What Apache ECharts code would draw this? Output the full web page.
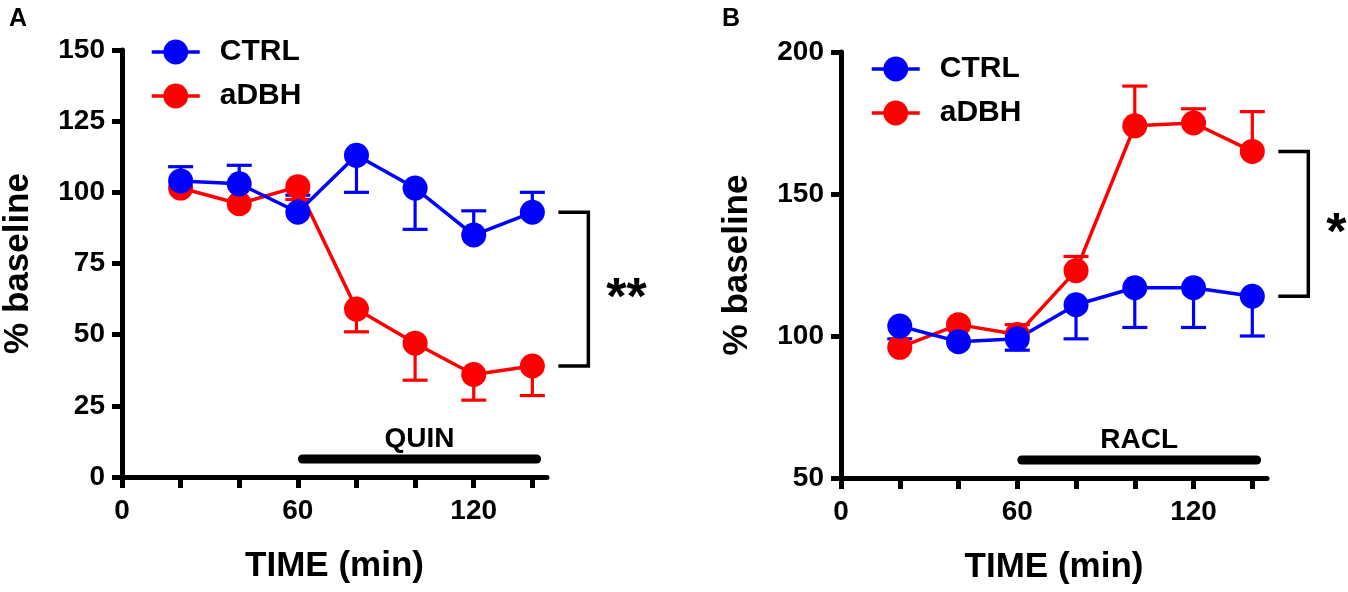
<!DOCTYPE html>
<html>
<head>
<meta charset="utf-8">
<script src="https://cdn.jsdelivr.net/npm/echarts@6/dist/echarts.min.js"></script>
<style>
html,body{margin:0;padding:0;background:#fff;}
#c{width:1348px;height:592px;}
</style>
</head>
<body>
<div id="c"></div>
<script>
// ---- data ----
const time = [20, 40, 60, 80, 100, 120, 140];
const xTickLabels = [0, 60, 120];

// Panel A (QUIN)
const quinCtrl = [104, 103, 93, 113, 101.5, 85, 93];
const quinCtrlErr = [109, 109.5, 99, 100, 87, 93.5, 100];
const quinAdbh = [101.5, 96, 102, 59, 47, 36, 39];
const quinAdbhErr = [null, null, 97.5, 51, 34, 27, 28.6];
const quinWindow = [60, 143];
const quinTicks = [0, 25, 50, 75, 100, 125, 150];

// Panel B (RACL)
const raclCtrl = [103.5, 98, 99, 111, 117, 117, 114];
const raclCtrlErr = [99, null, 95, 99, 103, 103, 100];
const raclAdbh = [96, 104, 100.5, 123, 174, 175, 165];
const raclAdbhErr = [null, null, 104, 128, 188, 180, 179];
const raclWindow = [60, 143];
const raclTicks = [50, 100, 150, 200];

const seriesNames = ['CTRL', 'aDBH'];
const sigA = '**';
const sigB = '*';

// ---- styling ----
const BLUE = '#0000ff', RED = '#ff0000', BLACK = '#000000';
const FONT = '"Liberation Sans", Arial, Helvetica, sans-serif';

function pairs(xs, ys) { return xs.map((x, i) => [x, ys[i]]); }
function errData(xs, ys, es) {
  const out = [];
  xs.forEach((x, i) => { if (es[i] != null) out.push([x, ys[i], es[i]]); });
  return out;
}
function errSeries(idx, data, color) {
  return {
    type: 'custom', xAxisIndex: idx, yAxisIndex: idx, data: data, silent: true,
    encode: { x: 0, y: [1, 2] },
    renderItem: function (params, api) {
      const p = api.coord([api.value(0), api.value(1)]);
      const q = api.coord([api.value(0), api.value(2)]);
      const st = { stroke: color, lineWidth: 3.2 };
      return { type: 'group', children: [
        { type: 'line', shape: { x1: p[0], y1: p[1], x2: q[0], y2: q[1] }, style: st },
        { type: 'line', shape: { x1: q[0] - 12.5, y1: q[1], x2: q[0] + 12.5, y2: q[1] }, style: st }
      ]};
    }
  };
}
function lineSeries(idx, name, data, color) {
  return {
    type: 'line', name: name, xAxisIndex: idx, yAxisIndex: idx, data: data,
    symbol: 'circle', symbolSize: 25, color: color,
    lineStyle: { color: color, width: 3.5 }, itemStyle: { color: color },
    silent: true, animation: false
  };
}
function windowSeries(idx, win, yMin, label) {
  return {
    type: 'custom', xAxisIndex: idx, yAxisIndex: idx, silent: true, clip: false,
    data: [[win[0], win[1], yMin]],
    encode: { x: [0, 1] },
    renderItem: function (params, api) {
      const a = api.coord([api.value(0), api.value(2)]);
      const b = api.coord([api.value(1), api.value(2)]);
      const yc = a[1] - 18;
      return { type: 'group', children: [
        { type: 'rect', shape: { x: a[0], y: yc - 4.5, width: b[0] - a[0], height: 9, r: 4.5 }, style: { fill: BLACK } },
        { type: 'text', style: { text: label, x: (a[0] + b[0]) / 2, y: yc - 20, align: 'center', verticalAlign: 'middle',
          font: 'bold 28px ' + FONT, fill: BLACK } }
      ]};
    }
  };
}
function bracketSeries(idx, x, top, bot, sig) {
  return {
    type: 'custom', xAxisIndex: idx, yAxisIndex: idx, silent: true, clip: false,
    data: [[x, top, bot]],
    encode: { x: 0, y: [1, 2] },
    renderItem: function (params, api) {
      const t = api.coord([api.value(0), api.value(1)]);
      const b = api.coord([api.value(0), api.value(2)]);
      const x1 = t[0] + 26, x2 = t[0] + 56;
      return { type: 'group', children: [
        { type: 'polyline', shape: { points: [[x1, t[1]], [x2, t[1]], [x2, b[1]], [x1, b[1]]] },
          style: { stroke: BLACK, lineWidth: 3.5, fill: null } },
        { type: 'text', style: { text: sig, x: t[0] + 74, y: (t[1] + b[1]) / 2 + 11, align: 'left', verticalAlign: 'middle',
          font: 'bold 52px ' + FONT, fill: BLACK } }
      ]};
    }
  };
}
function xAxis(idx) {
  return {
    type: 'value', gridIndex: idx, min: 0, max: 145,
    name: 'TIME (min)', nameLocation: 'middle', nameGap: 72,
    nameTextStyle: { fontSize: 35, fontWeight: 'bold', color: BLACK, fontFamily: FONT },
    axisLine: { show: true, onZero: false, lineStyle: { color: BLACK, width: 5 } },
    axisTick: { show: true, length: 11, lineStyle: { color: BLACK, width: 5 }, customValues: [0].concat(time) },
    axisLabel: { show: true, margin: 20, fontSize: 28, fontWeight: 'bold', color: BLACK, fontFamily: FONT,
      customValues: xTickLabels },
    splitLine: { show: false }
  };
}
function yAxis(idx, ticks) {
  return {
    type: 'value', gridIndex: idx, min: ticks[0], max: ticks[ticks.length - 1],
    name: '% baseline', nameLocation: 'middle', nameGap: 86,
    nameTextStyle: { fontSize: 35, fontWeight: 'bold', color: BLACK, fontFamily: FONT },
    axisLine: { show: true, onZero: false, lineStyle: { color: BLACK, width: 5 } },
    axisTick: { show: true, length: 10, lineStyle: { color: BLACK, width: 5 }, customValues: ticks },
    axisLabel: { show: true, margin: 17, fontSize: 28, fontWeight: 'bold', color: BLACK, fontFamily: FONT,
      customValues: ticks },
    splitLine: { show: false }
  };
}
function legend(left, top) {
  return {
    show: true, orient: 'vertical', left: left, top: top, data: seriesNames,
    itemWidth: 48, itemHeight: 31, itemGap: 14, selectedMode: false,
    lineStyle: { width: 3.5 },
    textStyle: { fontSize: 30, fontWeight: 'bold', color: BLACK, fontFamily: FONT, padding: [0, 0, 0, 15] }
  };
}

const chart = echarts.init(document.getElementById('c'), null, { renderer: 'canvas' });
chart.setOption({
  animation: false,
  backgroundColor: '#ffffff',
  title: [
    { text: 'A', left: 4, top: 2, textStyle: { fontSize: 25, fontWeight: 'bold', color: BLACK, fontFamily: FONT } },
    { text: 'B', left: 717, top: 2, textStyle: { fontSize: 25, fontWeight: 'bold', color: BLACK, fontFamily: FONT } }
  ],
  legend: [legend(145, 32), legend(865, 49)],
  grid: [
    { left: 121, top: 50, width: 426, height: 427 },
    { left: 841, top: 52, width: 426, height: 426 }
  ],
  xAxis: [xAxis(0), xAxis(1)],
  yAxis: [yAxis(0, quinTicks), yAxis(1, raclTicks)],
  series: [
    windowSeries(0, quinWindow, quinTicks[0], 'QUIN'),
    errSeries(0, errData(time, quinAdbh, quinAdbhErr), RED),
    lineSeries(0, seriesNames[1], pairs(time, quinAdbh), RED),
    errSeries(0, errData(time, quinCtrl, quinCtrlErr), BLUE),
    lineSeries(0, seriesNames[0], pairs(time, quinCtrl), BLUE),
    bracketSeries(0, time[time.length - 1], quinCtrl[quinCtrl.length - 1], quinAdbh[quinAdbh.length - 1], sigA),

    windowSeries(1, raclWindow, raclTicks[0], 'RACL'),
    errSeries(1, errData(time, raclAdbh, raclAdbhErr), RED),
    lineSeries(1, seriesNames[1], pairs(time, raclAdbh), RED),
    errSeries(1, errData(time, raclCtrl, raclCtrlErr), BLUE),
    lineSeries(1, seriesNames[0], pairs(time, raclCtrl), BLUE),
    bracketSeries(1, time[time.length - 1], raclAdbh[raclAdbh.length - 1], raclCtrl[raclCtrl.length - 1], sigB)
  ]
});
</script>
</body>
</html>
